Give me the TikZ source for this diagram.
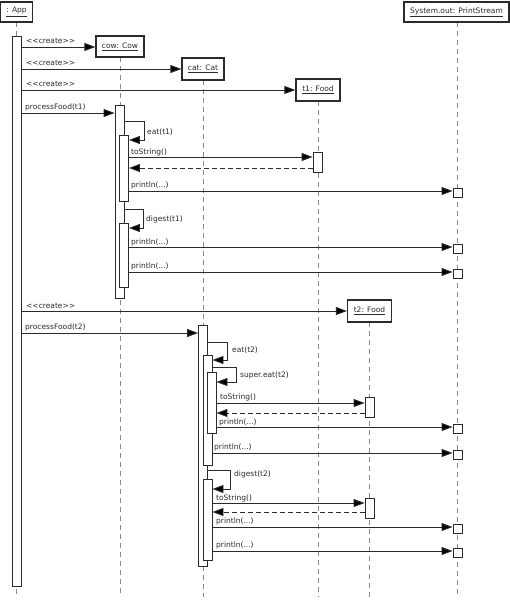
\documentclass[tikz,border=0pt]{standalone}
\usepackage{fontspec}
\setmainfont{DejaVu Sans}
\usetikzlibrary{arrows.meta}
\definecolor{ink}{HTML}{2B2B2B}
\definecolor{life}{HTML}{8A8A8A}
\begin{document}
\begin{tikzpicture}[x=1pt,y=-1pt,
  font=\fontsize{7.5}{9}\selectfont, text=ink,
  head/.style={draw=ink, line width=1.2pt, fill=white, inner sep=0pt, minimum height=20pt},
  bar/.style={draw=ink, line width=0.9pt, fill=white, inner sep=0pt, minimum width=9pt, anchor=north},
  lifeline/.style={draw=life, line width=0.8pt, dash pattern=on 5pt off 4pt},
  msg/.style={draw=ink, line width=0.9pt, -{Triangle[length=11pt,width=8pt,fill=black]}},
  ret/.style={msg, dash pattern=on 5pt off 3pt},
  lbl/.style={anchor=base west, inner sep=0pt},
  outbox/.style={draw=ink, line width=0.9pt, fill=white, inner sep=0pt, minimum size=9pt}]
\fill[white] (0,0) rectangle (510,600);
\useasboundingbox (0,0) rectangle (510,600);

% heads (positions)
\coordinate (appP) at (16.5,12);
\coordinate (cowP) at (120,46.5);
\coordinate (catP) at (203,69);
\coordinate (t1P) at (318,90);
\coordinate (psP) at (456.5,12);
\coordinate (t2P) at (369.5,311);

% lifelines
\draw[lifeline] (16.5,22) -- (16.5,597);
\draw[lifeline] (120,57) -- (120,597);
\draw[lifeline] (203,80) -- (203,597);
\draw[lifeline] (318,101) -- (318,597);
\draw[lifeline] (457,22) -- (457,597);
\draw[lifeline] (369.5,322) -- (369.5,597);

% heads
\node[head, minimum width=32pt] (app) at (appP) {\underline{: App}};
\node[head, minimum width=48pt, minimum height=21pt] (cow) at (cowP) {\underline{cow: Cow}};
\node[head, minimum width=42pt, minimum height=22pt] (cat) at (catP) {\underline{cat: Cat}};
\node[head, minimum width=44pt, minimum height=22pt] (t1) at (t1P) {\underline{t1: Food}};
\node[head, minimum width=105pt] (ps) at (psP) {\underline{System.out: PrintStream}};
\node[head, minimum width=44pt, minimum height=22pt] (t2) at (t2P) {\underline{t2: Food}};

% activation bars
\node[bar, minimum height=550pt] (appA) at (16.5,36) {};
\node[bar, minimum height=193pt] (cowA) at (119.5,105) {};
\node[bar, minimum height=66pt] (cowE) at (124,135) {};
\node[bar, minimum height=64pt] (cowD) at (124,223) {};
\node[bar, minimum height=20pt] (t1A) at (317.5,152) {};
\node[bar, minimum height=241pt] (catA) at (203,325) {};
\node[bar, minimum height=110pt] (catE) at (207.5,355) {};
\node[bar, minimum height=61pt] (catS) at (211.5,372) {};
\node[bar, minimum height=20pt] (t2A) at (369.5,397) {};
\node[bar, minimum height=81pt] (catD) at (207.5,479) {};
\node[bar, minimum height=20pt] (t2B) at (369.5,498) {};

% output boxes on System.out
\node[outbox] (o1) at (457.5,193) {};
\node[outbox] (o2) at (457.5,249) {};
\node[outbox] (o3) at (457.5,274) {};
\node[outbox] (o4) at (457.5,429) {};
\node[outbox] (o5) at (457.5,455) {};
\node[outbox] (o6) at (457.5,529) {};
\node[outbox] (o7) at (457.5,553) {};

% creates
\draw[msg] (appA.east |- 0,47) -- (cow.west |- 0,47);
\node[lbl] (l1) at (26,43) {<{}<create>{}>};
\draw[msg] (appA.east |- 0,69) -- (cat.west |- 0,69);
\node[lbl] (l2) at (26,65) {<{}<create>{}>};
\draw[msg] (appA.east |- 0,90) -- (t1.west |- 0,90);
\node[lbl] (l3) at (26,86) {<{}<create>{}>};

% processFood(t1)
\draw[msg] (appA.east |- 0,113) -- (cowA.west |- 0,113);
\node[lbl] (l4) at (25,109) {processFood(t1)};
\draw[msg] (cowA.east |- 0,121) -| (144,140) -- (cowE.east |- 0,140);
\node[lbl] (l5) at (147,134) {eat(t1)};
\draw[msg] (cowE.east |- 0,157) -- (t1A.west |- 0,157);
\node[lbl] (l6) at (131,154) {toString()};
\draw[ret] (t1A.west |- 0,168) -- (cowE.east |- 0,168);
\draw[msg] (cowE.east |- 0,191) -- (o1.west |- 0,191);
\node[lbl] (l7) at (131,187) {println(...)};
\draw[msg] (cowA.east |- 0,209) -| (143,228) -- (cowD.east |- 0,228);
\node[lbl] (l8) at (146,221) {digest(t1)};
\draw[msg] (cowD.east |- 0,247) -- (o2.west |- 0,247);
\node[lbl] (l9) at (131,244) {println(...)};
\draw[msg] (cowD.east |- 0,272) -- (o3.west |- 0,272);
\node[lbl] (l10) at (131,268) {println(...)};

% create t2
\draw[msg] (appA.east |- 0,311) -- (t2.west |- 0,311);
\node[lbl] (l11) at (26,308) {<{}<create>{}>};

% processFood(t2)
\draw[msg] (appA.east |- 0,333) -- (catA.west |- 0,333);
\node[lbl] (l12) at (25,329) {processFood(t2)};
\draw[msg] (catA.east |- 0,342) -| (227,360) -- (catE.east |- 0,360);
\node[lbl] (l13) at (232,352) {eat(t2)};
\draw[msg] (catE.east |- 0,367) -| (236,382) -- (catS.east |- 0,382);
\node[lbl] (l14) at (240,377) {super.eat(t2)};
\draw[msg] (catS.east |- 0,403) -- (t2A.west |- 0,403);
\node[lbl] (l15) at (220,399) {toString()};
\draw[ret] (t2A.west |- 0,413) -- (catS.east |- 0,413);
\draw[msg] (catS.east |- 0,427) -- (o4.west |- 0,427);
\node[lbl] (l16) at (219,424.5) {println(...)};
\draw[msg] (catE.east |- 0,453) -- (o5.west |- 0,453);
\node[lbl] (l17) at (214,449) {println(...)};
\draw[msg] (catA.east |- 0,470) -| (230,489) -- (catD.east |- 0,489);
\node[lbl] (l18) at (234,476) {digest(t2)};
\draw[msg] (catD.east |- 0,503) -- (t2B.west |- 0,503);
\node[lbl] (l19) at (216,500) {toString()};
\draw[ret] (t2B.west |- 0,512) -- (catD.east |- 0,512);
\draw[msg] (catD.east |- 0,527) -- (o6.west |- 0,527);
\node[lbl] (l20) at (216,523) {println(...)};
\draw[msg] (catD.east |- 0,551) -- (o7.west |- 0,551);
\node[lbl] (l21) at (216,547) {println(...)};
\end{tikzpicture}
\end{document}
